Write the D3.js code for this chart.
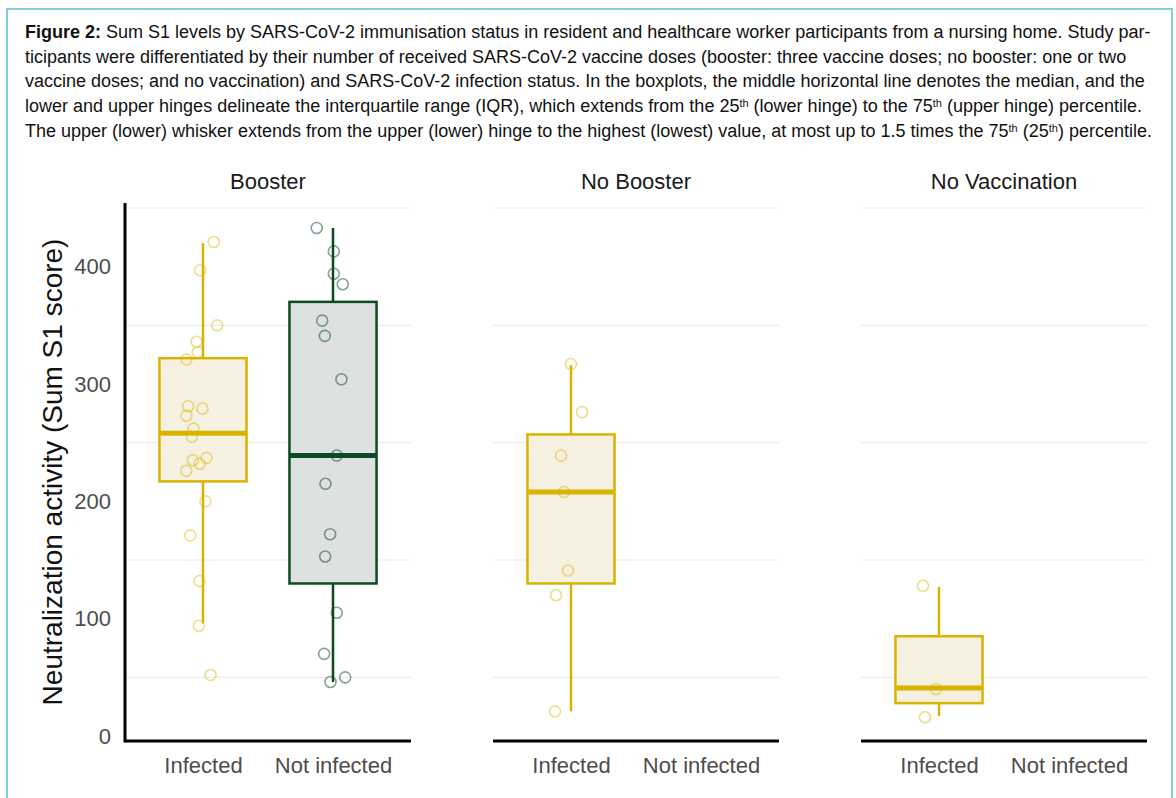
<!DOCTYPE html>
<html>
<head>
<meta charset="utf-8">
<script src="https://cdn.jsdelivr.net/npm/d3@7"></script>
<style>
  body { margin: 0; background: #fff; }
  svg { display: block; font-family: 'Liberation Sans', Arial, sans-serif; }
</style>
</head>
<body>
<div id="chart"></div>
<script>
// facets, categories and ticks
const groups = ['Booster', 'No Booster', 'No Vaccination'];
const statuses = ['Infected', 'Not infected'];
const yTicks = [0, 100, 200, 300, 400];
const gridValues = [50, 150, 250, 350, 450];

// box summaries
const boxStats = [
  { group: 'Booster', status: 'Infected', low: 96, q1: 217, median: 258, q3: 322, high: 420 },
  { group: 'Booster', status: 'Not infected', low: 46, q1: 130, median: 239, q3: 370, high: 433 },
  { group: 'No Booster', status: 'Infected', low: 21, q1: 130, median: 208, q3: 257, high: 316 },
  { group: 'No Vaccination', status: 'Infected', low: 17, q1: 28, median: 41, q3: 85, high: 127 }
];

// individual participants: [value, jitter (in category units)]
const boosterInfected = [
  [421, 0.083], [397, -0.022], [350, 0.109], [336, -0.05], [327, -0.04],
  [321, -0.127], [281, -0.114], [279, -0.004], [273, -0.127], [262, -0.073],
  [255, -0.086], [235, -0.078], [237, 0.027], [232, -0.025], [226, -0.129],
  [200, 0.019], [171, -0.098], [132, -0.027], [94, -0.032], [52, 0.058]
];
const boosterNotInfected = [
  [433, -0.125], [413, 0.006], [394, 0.006], [385, 0.075], [354, -0.083],
  [341, -0.063], [304, 0.065], [239, 0.029], [215, -0.058], [172, -0.022],
  [153, -0.06], [105, 0.029], [70, -0.068], [46, -0.019], [50, 0.094]
];
const noBoosterInfected = [
  [317, 0.0], [276, 0.085], [239, -0.077], [208, -0.054], [141, -0.023],
  [120, -0.115], [21, -0.123]
];
const noVaccInfected = [
  [128, -0.123], [40, -0.023], [16, -0.108]
];

const captionLines = [
  [{ t: 'Figure 2:', b: true }, { t: ' Sum S1 levels by SARS-CoV-2 immunisation status in resident and healthcare worker participants from a nursing home. Study par-' }],
  [{ t: 'ticipants were differentiated by their number of received SARS-CoV-2 vaccine doses (booster: three vaccine doses; no booster: one or two' }],
  [{ t: 'vaccine doses; and no vaccination) and SARS-CoV-2 infection status. In the boxplots, the middle horizontal line denotes the median, and the' }],
  [{ t: 'lower and upper hinges delineate the interquartile range (IQR), which extends from the 25' }, { t: 'th', sup: true },
   { t: ' (lower hinge) to the 75' }, { t: 'th', sup: true }, { t: ' (upper hinge) percentile.' }],
  [{ t: 'The upper (lower) whisker extends from the upper (lower) hinge to the highest (lowest) value, at most up to 1.5 times the 75' },
   { t: 'th', sup: true }, { t: ' (25' }, { t: 'th', sup: true }, { t: ') percentile.' }]
];

class FacetBoxplot {
  constructor(_config) {
    this.config = {
      parentElement: _config.parentElement,
      containerWidth: 1176,
      containerHeight: 798,
      panelTop: 203,
      panelBottom: 741,
      panelsLeft: 125,
      panelsRight: 1147
    };
    this.points = [
      { group: 'Booster', status: 'Infected', values: boosterInfected },
      { group: 'Booster', status: 'Not infected', values: boosterNotInfected },
      { group: 'No Booster', status: 'Infected', values: noBoosterInfected },
      { group: 'No Vaccination', status: 'Infected', values: noVaccInfected }
    ];
    this.initVis();
  }

  initVis() {
    let vis = this;

    vis.svg = d3.select(vis.config.parentElement)
      .append('svg')
      .attr('width', vis.config.containerWidth)
      .attr('height', vis.config.containerHeight);

    // teal frame round the figure
    vis.svg.append('rect')
      .attr('x', 7).attr('y', 9)
      .attr('width', 1165).attr('height', 820)
      .attr('fill', 'none')
      .attr('stroke', '#7dcfd9')
      .attr('stroke-width', 2);

    // caption
    const caption = vis.svg.append('g').attr('class', 'caption');
    const lineY = [38, 63, 87, 112, 137];
    captionLines.forEach((parts, i) => {
      const txt = caption.append('text')
        .attr('x', 25)
        .attr('y', lineY[i])
        .style('font-size', '18px')
        .attr('fill', '#111');
      parts.forEach(p => {
        const ts = txt.append('tspan').text(p.t);
        if (p.b) ts.style('font-weight', 'bold');
        if (p.sup) ts.attr('baseline-shift', '45%').style('font-size', '11px');
      });
    });

    vis.facetScale = d3.scaleBand()
      .domain(groups)
      .range([vis.config.panelsLeft, vis.config.panelsRight])
      .paddingInner(82 / 368);

    vis.xScale = d3.scalePoint()
      .domain(statuses)
      .range([0, vis.facetScale.bandwidth()])
      .padding(0.6);

    vis.yScale = d3.scaleLinear()
      .domain([0, 450])
      .range([736, 208]);

    vis.colorStroke = d3.scaleOrdinal().domain(statuses).range(['#d8b400', '#0c4a24']);
    vis.colorFill = d3.scaleOrdinal().domain(statuses).range(['#f6f0e0', '#dde1e0']);

    vis.renderVis();
  }

  renderVis() {
    let vis = this;
    const y = vis.yScale;
    const step = vis.xScale.step();
    const boxW = step * 0.67;
    const font = "'Liberation Sans', Arial, sans-serif";

    const panels = vis.svg.selectAll('.panel')
      .data(groups)
      .join('g')
      .attr('class', 'panel')
      .attr('transform', d => `translate(${vis.facetScale(d)},0)`);

    // minor gridlines
    panels.selectAll('.grid')
      .data(gridValues)
      .join('line')
      .attr('class', 'grid')
      .attr('x1', 0)
      .attr('x2', vis.facetScale.bandwidth())
      .attr('y1', d => y(d))
      .attr('y2', d => y(d))
      .attr('stroke', '#ebebeb')
      .attr('stroke-width', 1.2);

    // facet strip titles
    panels.append('text')
      .attr('x', vis.facetScale.bandwidth() / 2)
      .attr('y', 189)
      .attr('text-anchor', 'middle')
      .style('font-size', '22px')
      .attr('fill', '#1a1a1a')
      .text(d => d);

    // x axis
    panels.each(function () {
      const g = d3.select(this).append('g')
        .attr('transform', `translate(0,${vis.config.panelBottom})`)
        .call(d3.axisBottom(vis.xScale).tickSize(0).tickPadding(16));
      g.select('.domain').attr('stroke', '#000').attr('stroke-width', 3)
        .attr('d', `M0,0H${vis.facetScale.bandwidth()}`);
      g.selectAll('text').style('font-size', '22px').attr('fill', '#4d4d4d')
        .style('font-family', font);
    });

    // y axis on first panel
    const yAxisG = vis.svg.append('g')
      .attr('transform', `translate(${vis.config.panelsLeft},0)`)
      .call(d3.axisLeft(y).tickValues(yTicks).tickSize(0).tickPadding(14));
    yAxisG.select('.domain').attr('stroke', '#000').attr('stroke-width', 3)
      .attr('d', `M0,${vis.config.panelTop}V${vis.config.panelBottom + 1.5}`);
    yAxisG.selectAll('text').style('font-size', '22px').attr('fill', '#4d4d4d')
      .style('font-family', font);

    vis.svg.append('text')
      .attr('transform', `translate(62,${(vis.config.panelTop + vis.config.panelBottom) / 2}) rotate(-90)`)
      .attr('text-anchor', 'middle')
      .style('font-size', '28px')
      .attr('fill', '#111')
      .text('Neutralization activity (Sum S1 score)');

    // boxes
    const boxes = vis.svg.selectAll('.box')
      .data(boxStats)
      .join('g')
      .attr('class', 'box')
      .attr('transform', d => `translate(${vis.facetScale(d.group) + vis.xScale(d.status)},0)`);

    boxes.append('line')
      .attr('y1', d => y(d.high)).attr('y2', d => y(d.q3))
      .attr('stroke', d => vis.colorStroke(d.status)).attr('stroke-width', 2.5);
    boxes.append('line')
      .attr('y1', d => y(d.q1)).attr('y2', d => y(d.low))
      .attr('stroke', d => vis.colorStroke(d.status)).attr('stroke-width', 2.5);
    boxes.append('rect')
      .attr('x', -boxW / 2)
      .attr('width', boxW)
      .attr('y', d => y(d.q3))
      .attr('height', d => y(d.q1) - y(d.q3))
      .attr('fill', d => vis.colorFill(d.status))
      .attr('stroke', d => vis.colorStroke(d.status))
      .attr('stroke-width', 2.5);
    boxes.append('line')
      .attr('x1', -boxW / 2).attr('x2', boxW / 2)
      .attr('y1', d => y(d.median)).attr('y2', d => y(d.median))
      .attr('stroke', d => vis.colorStroke(d.status)).attr('stroke-width', 5);

    // jittered points
    vis.points.forEach(cell => {
      const cx = vis.facetScale(cell.group) + vis.xScale(cell.status);
      vis.svg.append('g').selectAll('circle')
        .data(cell.values)
        .join('circle')
        .attr('cx', d => cx + d[1] * step)
        .attr('cy', d => y(d[0]))
        .attr('r', 5.5)
        .attr('fill', 'none')
        .attr('stroke', vis.colorStroke(cell.status))
        .attr('stroke-opacity', cell.status === 'Infected' ? 0.45 : 0.5)
        .attr('stroke-width', 1.6);
    });
  }
}

new FacetBoxplot({ parentElement: '#chart' });
</script>
</body>
</html>
